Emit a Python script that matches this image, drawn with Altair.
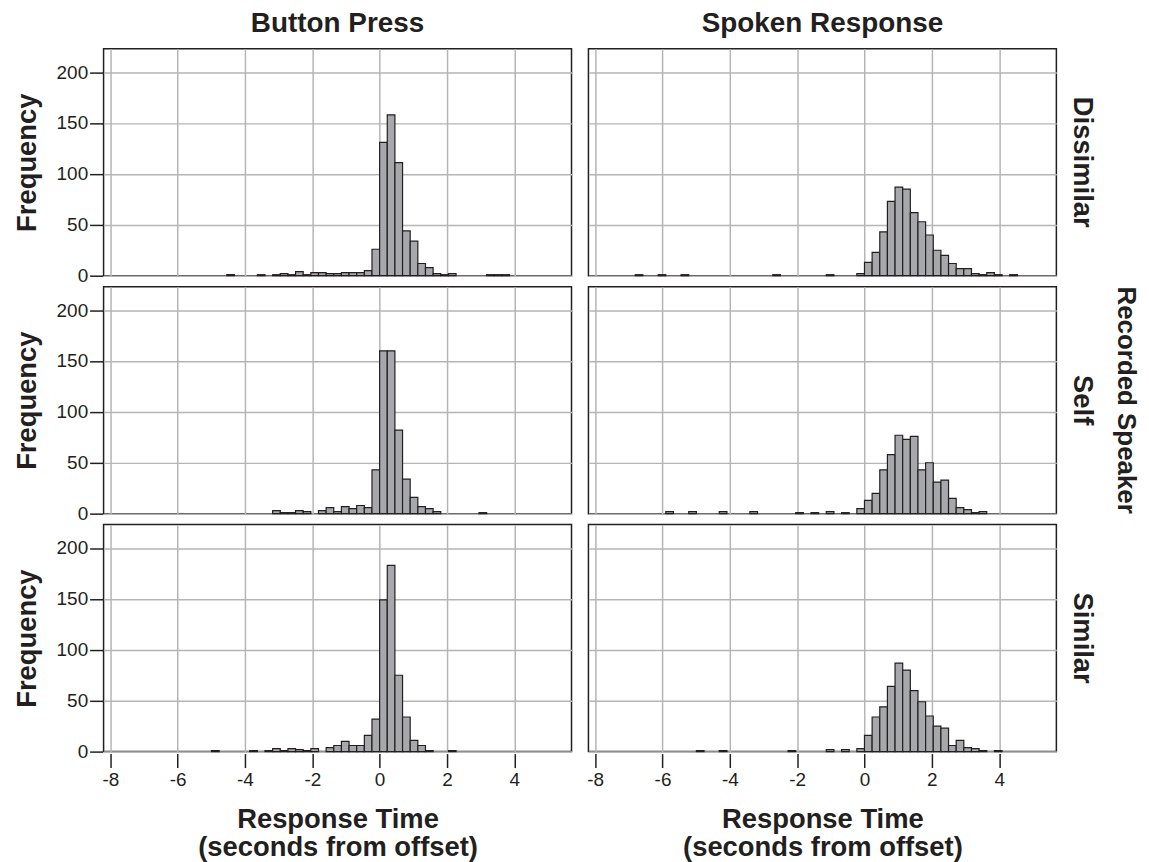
import altair as alt
import pandas as pd

BIN_WIDTH = 0.227  # seconds per histogram bin (bin k spans k*w .. (k+1)*w)

responses = ["Button Press", "Spoken Response"]
speakers = ["Dissimilar", "Self", "Similar"]

x_ticks = [-8, -6, -4, -2, 0, 2, 4]
y_ticks = [0, 50, 100, 150, 200]

# Button Press / Dissimilar
bp_dis_bins = [-20, -16, -14, -13, -12, -11, -10, -9, -8, -7, -6, -5, -4, -3, -2, -1,
               0, 1, 2, 3, 4, 5, 6, 7, 8, 9, 14, 15, 16]
bp_dis_counts = [1, 1, 1, 2, 1, 4, 1, 3, 3, 2, 2, 3, 3, 3, 5, 26,
                 131, 158, 111, 44, 34, 12, 8, 2, 1, 2, 1, 1, 1]

# Spoken Response / Dissimilar
sp_dis_bins = [-30, -27, -24, -12, -5, -1, 0, 1, 2, 3, 4, 5, 6, 7, 8, 9, 10,
               11, 12, 13, 14, 15, 16, 17, 19]
sp_dis_counts = [1, 1, 1, 1, 1, 2, 13, 23, 43, 73, 87, 85, 62, 53, 40, 25, 20,
                 12, 7, 7, 2, 1, 3, 1, 1]

# Button Press / Self
bp_self_bins = [-14, -13, -12, -11, -10, -8, -7, -6, -5, -4, -3, -2, -1,
                0, 1, 2, 3, 4, 5, 6, 7, 13]
bp_self_counts = [3, 1, 1, 3, 2, 3, 6, 2, 7, 5, 8, 6, 43,
                  160, 160, 82, 34, 16, 7, 5, 2, 1]

# Spoken Response / Self
sp_self_bins = [-26, -23, -19, -15, -9, -7, -5, -3, -1, 0, 1, 2, 3, 4, 5, 6, 7,
                8, 9, 10, 11, 12, 13, 14, 15]
sp_self_counts = [2, 2, 2, 2, 1, 1, 2, 1, 5, 13, 20, 43, 58, 77, 73, 76, 43,
                  50, 31, 33, 15, 6, 4, 1, 2]

# Button Press / Similar
bp_sim_bins = [-22, -17, -15, -14, -13, -12, -11, -10, -9, -7, -6, -5, -4, -3, -2, -1,
               0, 1, 2, 3, 4, 5, 6, 9]
bp_sim_counts = [1, 1, 1, 3, 1, 3, 2, 1, 3, 4, 6, 10, 6, 6, 16, 32,
                 149, 183, 75, 34, 11, 6, 1, 1]

# Spoken Response / Similar
sp_sim_bins = [-22, -19, -10, -5, -3, -1, 0, 1, 2, 3, 4, 5, 6, 7, 8, 9, 10,
               11, 12, 13, 14, 15, 17]
sp_sim_counts = [1, 1, 1, 2, 2, 3, 16, 34, 44, 64, 87, 80, 60, 49, 35, 25, 23,
                 6, 11, 4, 3, 1, 1]

panels = [
    ("Button Press", "Dissimilar", bp_dis_bins, bp_dis_counts),
    ("Spoken Response", "Dissimilar", sp_dis_bins, sp_dis_counts),
    ("Button Press", "Self", bp_self_bins, bp_self_counts),
    ("Spoken Response", "Self", sp_self_bins, sp_self_counts),
    ("Button Press", "Similar", bp_sim_bins, bp_sim_counts),
    ("Spoken Response", "Similar", sp_sim_bins, sp_sim_counts),
]

rows = []
for resp, spk, bins, counts in panels:
    for k, c in zip(bins, counts):
        rows.append({"response": resp, "speaker": spk,
                     "x0": k * BIN_WIDTH, "x1": (k + 1) * BIN_WIDTH, "count": c})
df = pd.DataFrame(rows)

FONT = "Liberation Sans"
INK = "#231f20"
BIG = 27.5

base = alt.Chart(df).mark_rect(
    color="#a7a8ac", stroke=INK, strokeWidth=1.2
).encode(
    x=alt.X("x0:Q",
            scale=alt.Scale(domain=[-8.2, 5.7], nice=False, zero=False),
            axis=alt.Axis(values=x_ticks, title=["Response Time", "(seconds from offset)"],
                          labelExpr="datum.value < 0 ? '-' + (-datum.value) : '' + datum.value",
                          tickSize=14, labelPadding=3, titlePadding=16,
                          titleLineHeight=28)),
    x2="x1:Q",
    y=alt.Y("count:Q",
            scale=alt.Scale(domain=[0, 223], nice=False),
            axis=alt.Axis(values=y_ticks, title="Frequency",
                          tickSize=13, labelPadding=2, titlePadding=15)),
    y2=alt.datum(0),
).properties(width=470, height=228)

chart = base.facet(
    column=alt.Column("response:N", sort=responses,
                      header=alt.Header(title=None, labelFontSize=28, labelFont=FONT,
                                        labelFontWeight="bold", labelColor=INK,
                                        labelPadding=10)),
    row=alt.Row("speaker:N", sort=speakers,
                header=alt.Header(title="Recorded Speaker", titleOrient="right",
                                  titleAngle=90, titleFontSize=26, titleFont=FONT,
                                  titleFontWeight="bold", titleColor=INK,
                                  titlePadding=7,
                                  labelOrient="right", labelAngle=90,
                                  labelFontSize=BIG, labelFont=FONT,
                                  labelFontWeight="bold", labelColor=INK,
                                  labelPadding=11)),
    spacing={"row": 8, "column": 15},
).properties(
    padding={"left": 5, "top": 0, "right": 2, "bottom": 0},
    background="white",
).configure_view(
    stroke=INK, strokeWidth=1.5
).configure_axis(
    grid=True, gridColor="#b5b5b5", gridWidth=1.5,
    domain=False, tickColor=INK, tickWidth=1.5,
    labelFont=FONT, labelFontSize=19, labelColor=INK,
    titleFont=FONT, titleFontSize=BIG, titleFontWeight="bold", titleColor=INK,
)

chart.save("out.html", embed_options={"renderer": "svg", "actions": False})
